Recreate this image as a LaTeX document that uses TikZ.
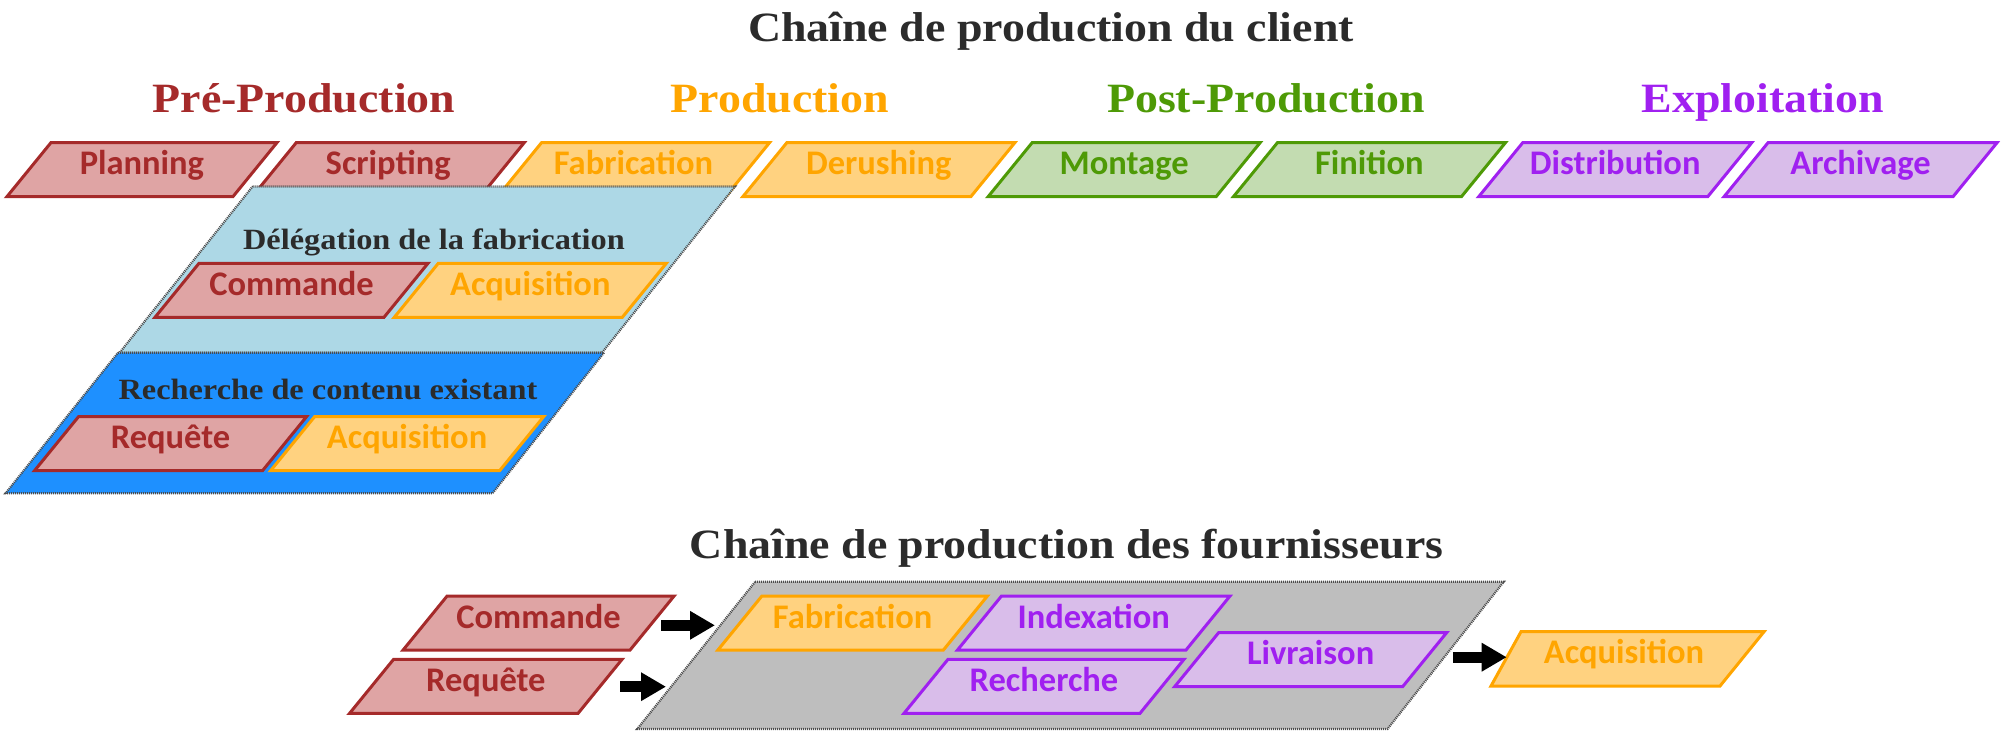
\documentclass[tikz,border=0pt]{standalone}
\usepackage{fontspec}
\setmainfont{Carlito}
\newfontfamily\titlefont{Liberation Serif}[FakeStretch=1.1]
\usetikzlibrary{arrows.meta}
\definecolor{prec}{HTML}{A52A2A}
\definecolor{pref}{HTML}{DFA4A4}
\definecolor{proc}{HTML}{FFA500}
\definecolor{prof}{HTML}{FFD280}
\definecolor{postc}{HTML}{4E9A06}
\definecolor{postf}{HTML}{C3DCB1}
\definecolor{expc}{HTML}{A020F0}
\definecolor{expf}{HTML}{D9BDEA}
\definecolor{lblue}{HTML}{ADD8E6}
\definecolor{dblue}{HTML}{1E90FF}
\definecolor{greyzone}{HTML}{BEBEBE}
\definecolor{titlec}{HTML}{2B2B2B}
\tikzset{
  pbox/.style={line width=3pt, line join=miter},
  prebox/.style={pbox, draw=prec, fill=pref},
  probox/.style={pbox, draw=proc, fill=prof},
  postbox/.style={pbox, draw=postc, fill=postf},
  expbox/.style={pbox, draw=expc, fill=expf},
  lbl/.style={anchor=base, inner sep=0pt, font=\bfseries\fontsize{34.5}{38}\selectfont},
  zone/.style={draw=black!70, line width=2.2pt, dash pattern=on 1pt off 1pt},
  bigtitle/.style={anchor=base, inner sep=0pt, text=titlec, font=\titlefont\bfseries\fontsize{41.7}{46}\selectfont},
  phase/.style={anchor=base, inner sep=0pt, font=\titlefont\bfseries\fontsize{41.7}{46}\selectfont},
  zonetitle/.style={anchor=base, inner sep=0pt, text=titlec, font=\titlefont\bfseries\fontsize{29.4}{33}\selectfont},
  bigarrow/.style={line width=10.7pt, -{Triangle[length=25pt,width=27pt]}},
}
\newcommand\pgram[6]{%
  \path[#1box] (#3,#4) -- ++(#5,0) -- ++(-44,54) -- ++(-#5,0) -- cycle;
  \node[lbl, text=#1c] (#2) at ({#3+#5/2-22},{#4+32}) {#6};
}
\begin{document}
\begin{tikzpicture}[x=1pt,y=-1pt]
\useasboundingbox (0,0) rectangle (2001,731);
% titles
\node[bigtitle] (t1) at (1051,41.7) {Chaîne de production du client};
\node[phase, text=prec] (ph1) at (304,112.5) {Pré-Production};
\node[phase, text=proc] (ph2) at (780,112.5) {Production};
\node[phase, text=postc] (ph3) at (1266,112.5) {Post-Production};
\node[phase, text=expc] (ph4) at (1763,112.5) {Exploitation};
% top row
\pgram{pre}{planning}{50.9}{142.7}{226}{Planning}
\pgram{pre}{scripting}{296.2}{142.7}{228}{Scripting}
\pgram{pro}{fabrication}{541.5}{142.7}{228}{Fabrication}
\pgram{pro}{derushing}{786.8}{142.7}{228}{Derushing}
\pgram{post}{montage}{1032.1}{142.7}{228}{Montage}
\pgram{post}{finition}{1277.4}{142.7}{228}{Finition}
\pgram{exp}{distribution}{1522.7}{142.7}{229}{Distribution}
\pgram{exp}{archivage}{1768}{142.7}{229}{Archivage}
% delegation zone
\path[zone, fill=lblue] (252.6,186.5) -- (735,186.5) -- (602,352.7) -- (119.6,352.7) -- cycle;
\node[zonetitle] (deleg) at (434,249) {Délégation de la fabrication};
\pgram{pre}{commande1}{199}{263.3}{229}{Commande}
\pgram{pro}{acquisition1}{438.3}{263.3}{228}{Acquisition}
% recherche zone
\path[zone, fill=dblue] (118,352.7) -- (604,352.7) -- (492.5,493.3) -- (5.5,493.3) -- cycle;
\node[zonetitle] (rech) at (328,399.3) {Recherche de contenu existant};
\pgram{pre}{requete1}{78.5}{416.7}{228}{Requête}
\pgram{pro}{acquisition2}{314.6}{416.7}{229}{Acquisition}
% supplier chain
\node[bigtitle] (t2) at (1066.7,558.3) {Chaîne de production des fournisseurs};
\path[zone, fill=greyzone] (755.2,581.7) -- (1503.8,581.7) -- (1387.5,729) -- (637.2,729) -- cycle;
\pgram{pre}{commande2}{447.1}{596}{227}{Commande}
\pgram{pre}{requete2}{393.6}{659.3}{228.5}{Requête}
\pgram{pro}{fabrication2}{761.9}{596}{225.5}{Fabrication}
\pgram{exp}{indexation}{1001.5}{596}{228.5}{Indexation}
\pgram{exp}{recherche}{948}{659.3}{236}{Recherche}
\pgram{exp}{livraison}{1218.6}{632.7}{228}{Livraison}
\path[probox] (1521,631.7) -- (1764,631.7) -- (1720,686) -- (1491,686) -- cycle;
\node[lbl, text=proc] (acquisition3) at (1624,663.7) {Acquisition};
% arrows
\coordinate (a1s) at (661,625.3);
\coordinate (a1e) at (715,625.3);
\coordinate (a2s) at (620,686.7);
\coordinate (a2e) at (666,686.7);
\coordinate (a3s) at (1452.8,657.2);
\coordinate (a3e) at (1506.7,657.2);
\draw[bigarrow] (a1s) -- (a1e);
\draw[bigarrow] (a2s) -- (a2e);
\draw[bigarrow] (a3s) -- (a3e);
\end{tikzpicture}
\end{document}
